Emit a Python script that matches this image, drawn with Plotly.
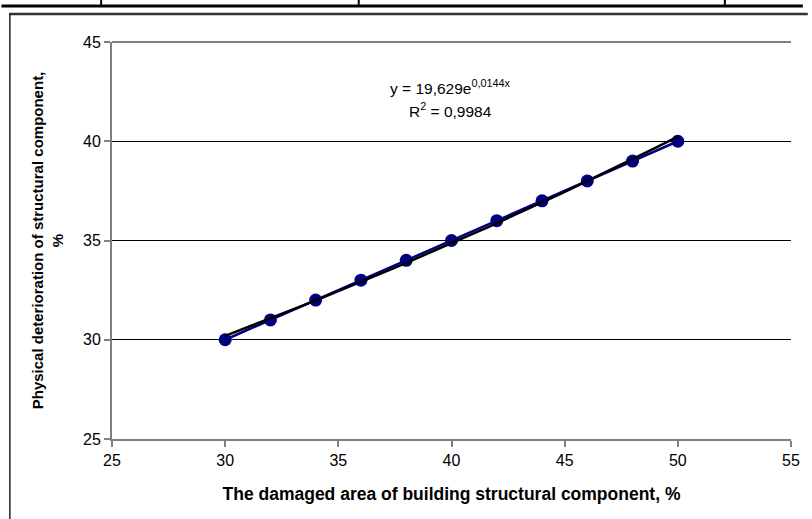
import numpy as np
import plotly.graph_objects as go

# Data
damaged_area = [30, 32, 34, 36, 38, 40, 42, 44, 46, 48, 50]
deterioration = [30, 31, 32, 33, 34, 35, 36, 37, 38, 39, 40]
x_ticks = [25, 30, 35, 40, 45, 50, 55]
y_ticks = [25, 30, 35, 40, 45]
eq_text = "y = 19,629e<sup>0,0144x</sup>"
r2_text = "R<sup>2</sup> = 0,9984"

# Exponential trendline fitted to the data (like Excel)
b, ln_a = np.polyfit(damaged_area, np.log(deterioration), 1)
tx = np.linspace(min(damaged_area), max(damaged_area), 60)
ty = np.exp(ln_a) * np.exp(b * tx)

W, H = 812, 519
L, R, T, B = 112, 12, 42, 80
pw, ph = W - L - R, H - T - B

def px(x):
    return (x - L) / pw

def py(y):
    return (H - B - y) / ph

fig = go.Figure()
fig.add_trace(go.Scatter(
    x=damaged_area, y=deterioration, mode="lines+markers",
    line=dict(color="#000080", width=2.5),
    marker=dict(color="#000080", size=13, symbol="circle"),
    showlegend=False, hoverinfo="skip"))
fig.add_trace(go.Scatter(
    x=tx, y=ty, mode="lines",
    line=dict(color="#000000", width=2.5),
    showlegend=False, hoverinfo="skip"))

font = dict(family="Liberation Sans, Arial, sans-serif", size=15, color="#000000")

shapes = [
    # table fragment at top
    dict(type="line", xref="paper", yref="paper", x0=px(0), x1=px(W), y0=py(6), y1=py(6),
         line=dict(color="#000000", width=3)),
    dict(type="line", xref="paper", yref="paper", x0=px(101), x1=px(101), y0=py(-2), y1=py(6),
         line=dict(color="#000000", width=2)),
    dict(type="line", xref="paper", yref="paper", x0=px(362), x1=px(362), y0=py(-2), y1=py(6),
         line=dict(color="#000000", width=2)),
    dict(type="line", xref="paper", yref="paper", x0=px(733), x1=px(733), y0=py(-2), y1=py(6),
         line=dict(color="#000000", width=2)),
    # chart border
    dict(type="line", xref="paper", yref="paper", x0=px(8), x1=px(W + 5), y0=py(14), y1=py(14),
         line=dict(color="#333333", width=2.5)),
    dict(type="line", xref="paper", yref="paper", x0=px(8.5), x1=px(8.5), y0=py(13), y1=py(H + 5),
         line=dict(color="#222222", width=1.5)),
    # plot area top border (gray)
    dict(type="line", xref="paper", yref="paper", x0=0, x1=1, y0=1, y1=1,
         line=dict(color="#808080", width=2)),
]

fig.update_layout(
    width=W, height=H,
    margin=dict(l=L, r=R, t=T, b=B),
    paper_bgcolor="white", plot_bgcolor="white",
    font=font,
    shapes=shapes,
    annotations=[
        dict(text=eq_text, x=px(455), y=py(87), xref="paper", yref="paper",
             showarrow=False, font=dict(size=15.5), xanchor="center", yanchor="middle"),
        dict(text=r2_text, x=px(455), y=py(110), xref="paper", yref="paper",
             showarrow=False, font=dict(size=15.5), xanchor="center", yanchor="middle"),
    ],
)
fig.update_xaxes(
    range=[25, 55], tickvals=x_ticks, ticks="outside", ticklen=6, tickcolor="#808080",
    tickwidth=1.5, showline=True, linecolor="#808080", linewidth=2, showgrid=False,
    zeroline=False, tickfont=dict(size=16),
    title=dict(text="<b>The damaged area of building structural component, %</b>",
               font=dict(size=17.5), standoff=20))
fig.update_yaxes(
    range=[25, 45], tickvals=y_ticks, ticks="outside", ticklen=6, tickcolor="#808080",
    tickwidth=1.5, showline=True, linecolor="#808080", linewidth=2,
    showgrid=True, gridcolor="#000000", gridwidth=1, zeroline=False,
    tickfont=dict(size=16),
    title=dict(text="<b>Physical deterioration of structural component,<br>%</b>",
               font=dict(size=15), standoff=16))

fig.write_html("out.html", config={"displayModeBar": False},
               post_script="document.body.style.margin='0';document.body.style.overflow='hidden';")
